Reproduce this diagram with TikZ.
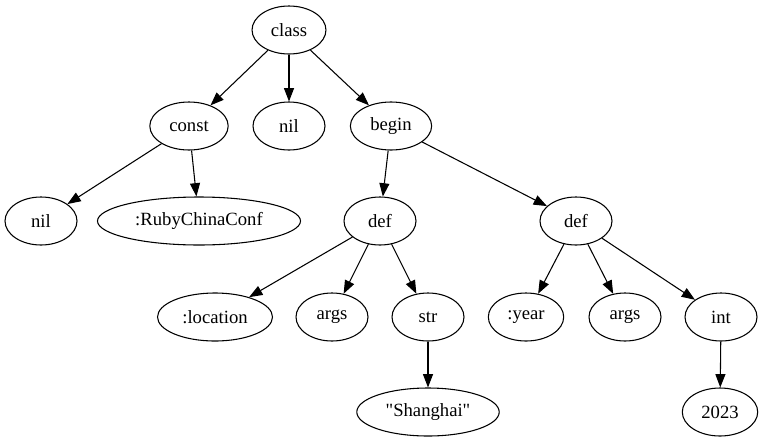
\documentclass[tikz,border=0pt]{standalone}
\usepackage{fontspec}
\setmainfont{Liberation Serif}
\usetikzlibrary{arrows.meta,shapes.geometric}

\begin{document}
\begin{tikzpicture}[x=0.75pt,y=-0.75pt,font=\fontsize{14}{16}\selectfont,
    item/.style={ellipse,draw,line width=0.8pt,minimum width=54pt,minimum height=36pt,inner xsep=6pt,inner ysep=0pt},
    edge/.style={line width=0.8pt,-{Triangle[length=10pt,width=7.5pt]}}]
    \useasboundingbox (0,0) rectangle (766,443);
    % rows of the tree
    \node[item] (class) at (289,30) {class};
    \node[item] (const) at (189,126) {const};
    \node[item] (nilA) at (289,126) {nil};
    \node[item] (begin) at (391,126) {begin};
    \node[item] (nilB) at (41,221) {nil};
    \node[item] (rcc) at (199,221) {:RubyChinaConf};
    \node[item] (defA) at (380,221) {def};
    \node[item] (defB) at (576,221) {def};
    \node[item] (loc) at (215,317) {:location};
    \node[item] (argsA) at (332,317) {args};
    \node[item] (str) at (428,317) {str};
    \node[item] (year) at (526,317) {:year};
    \node[item] (argsB) at (625,317) {args};
    \node[item] (int) at (721,317) {int};
    \node[item] (sh) at (428,412) {\textquotedbl Shanghai\textquotedbl};
    \node[item] (yr) at (720,412) {2023};
    \foreach \A/\B in {class/const,class/nilA,class/begin,const/nilB,const/rcc,
        begin/defA,begin/defB,defA/loc,defA/argsA,defA/str,defB/year,
        defB/argsB,defB/int,str/sh,int/yr}
    {\draw[edge] (\A) -- (\B);}
\end{tikzpicture}
\end{document}
